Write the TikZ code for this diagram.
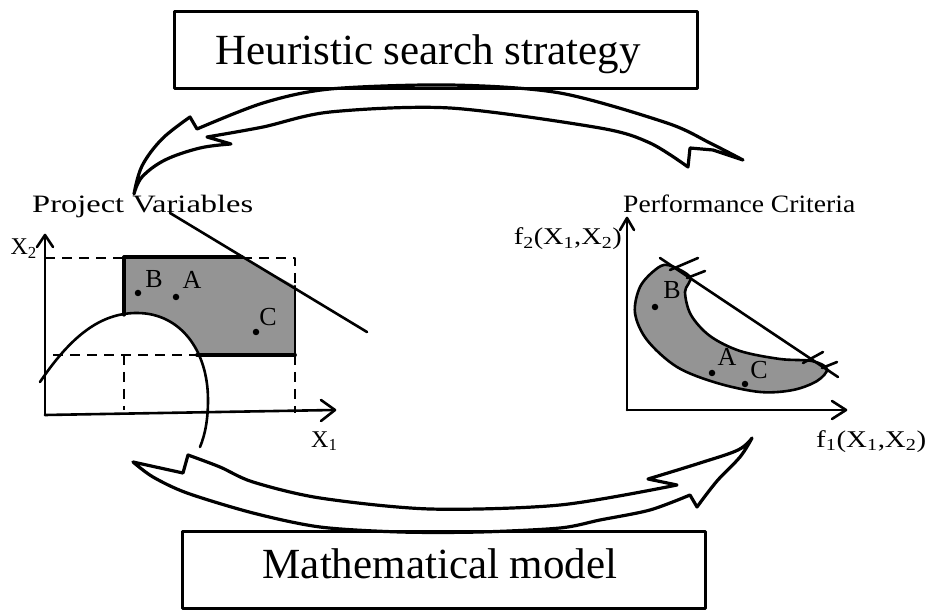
\documentclass[tikz,border=0pt]{standalone}
\usepackage{fontspec}
\setmainfont{Liberation Serif}
\usepackage{graphicx}
\begin{document}
\begin{tikzpicture}[x=1pt,y=-1pt,line join=round,line cap=round]
\tikzset{
  ln/.style={line width=2.6pt},
  dsh/.style={line width=2.4pt,dash pattern=on 10pt off 7pt,line cap=butt},
  bigbox/.style={draw,line width=3.2pt,minimum width=523pt,minimum height=77pt,inner sep=0pt},
  bigtext/.style={font=\fontsize{43}{50}\selectfont,inner sep=0pt},
  lbl/.style={font=\fontsize{24}{28}\selectfont,inner sep=0pt},
  ptl/.style={font=\fontsize{25}{29}\selectfont,inner sep=0pt},
  abc/.style={font=\fontsize{26}{30}\selectfont,inner sep=0pt},
  dot/.style={circle,fill=black,minimum size=6.5pt,inner sep=0pt},
  band/.style={line width=3.2pt},
  region/.style={fill=black!42}
}
\useasboundingbox (0,0) rectangle (935,612);

% ---------- boxes ----------
\node[bigbox] (heur) at (436,50) {};
\node[bigtext,anchor=base] (heurtext) at (428,65) {Heuristic search strategy};
\node[bigbox] (math) at (444,570) {};
\node[bigtext,anchor=base] (mathtext) at (440,578) {Mathematical model};

% ---------- titles ----------
\node[ptl,anchor=base west] (pv) at (32,213) {\resizebox{221pt}{\height}{Project Variables}};
\node[ptl,anchor=base west] (pc) at (623,213) {\resizebox{232pt}{\height}{Performance Criteria}};

% ---------- left plot ----------
\fill[region] (124,257) -- (242,257) -- (295,286) -- (295,355) -- (124,355) -- cycle;
\fill[white] (40,382) .. controls (75,330) and (105,313) .. (137,313)
   .. controls (180,313) and (208,350) .. (208,400) -- (208,420) -- (40,420) -- cycle;
\draw[dsh] (45,258) -- (124,258);
\draw[dsh] (242,258) -- (295,258) -- (295,286);
\draw[dsh] (295,355) -- (295,413);
\draw[dsh] (124,355) -- (124,410);
\draw[dsh] (53,355) -- (197,355);
\draw[line width=3.2pt] (124,315) -- (124,257) -- (242,257);
\draw[ln] (295,286) -- (295,355);
\draw[line width=3.8pt] (197,355) -- (295,355);
\draw[ln] (170,213) -- (367,332);
\draw[ln] (40,382) .. controls (75,330) and (105,313) .. (137,313)
   .. controls (180,313) and (208,350) .. (208,400)
   .. controls (208,420) and (205,435) .. (200,447);
\draw[ln] (45,415) -- (45,236);
\draw[ln] (37,247) -- (45,235) -- (53,247);
\draw[ln] (45,415) -- (334,410);
\draw[ln] (321,400) -- (335,410) -- (321,421);
\node[lbl,anchor=base east] (x2) at (37,255) {X\textsubscript{2}};
\node[lbl,anchor=base west] (x1) at (311,447) {X\textsubscript{1}};
\node[dot] (lB) at (138,293) {};
\node[dot] (lA) at (176,297) {};
\node[dot] (lC) at (256,332) {};
\node[abc] (lBt) at (154,279) {B};
\node[abc] (lAt) at (192,280) {A};
\node[abc] (lCt) at (268,317) {C};

% ---------- right plot ----------
\draw[ln,region] plot[smooth cycle,tension=0.55] coordinates {
  (690,277) (685,292) (691,315) (710,336) (740,351) (780,359) (812,361) (827,369)
  (817,381) (793,390) (760,392) (717,383) (677,367) (647,340) (635,313) (640,287) (655,270) (668,265)};
\draw[ln] (660,258) -- (838,377);
\draw[ln] (670,270) -- (698,258);
\draw[ln] (687,278) -- (705,271);
\draw[ln] (803,363) -- (823,352);
\draw[ln] (822,368) -- (837,362);
\draw[ln] (627,410) -- (627,219);
\draw[ln] (620,230) -- (627,218) -- (634,230);
\draw[ln] (627,410) -- (845,410);
\draw[ln] (832,401) -- (846,410) -- (832,419);
\node[lbl,anchor=base east] (f2) at (622,245) {\resizebox{108pt}{\height}{f\textsubscript{2}(X\textsubscript{1},X\textsubscript{2})}};
\node[lbl,anchor=base west] (f1) at (816,447) {\resizebox{110pt}{\height}{f\textsubscript{1}(X\textsubscript{1},X\textsubscript{2})}};
\node[dot] (rB) at (655,307) {};
\node[dot] (rA) at (712,373) {};
\node[dot] (rC) at (745,384) {};
\node[abc] (rBt) at (672,290) {B};
\node[abc] (rAt) at (727,357) {A};
\node[abc] (rCt) at (759,370) {C};

% ---------- top band arrow ----------
\draw[band] plot[smooth,tension=0.6] coordinates {(134,194) (142,166) (162,139) (190,117)}
  -- (197,129)
  -- plot[smooth] coordinates {(197,129) (263,103) (330,89) (450,85) (560,93) (667,123) (710,143) (743,160)}
  -- (713,150) -- (690,148) -- (688,167)
  -- plot[smooth] coordinates {(688,167) (650,143) (600,128) (450,108) (330,112) (263,127) (207,137)}
  -- (231,144)
  -- plot[smooth,tension=0.6] coordinates {(231,144) (200,148) (165,160) (142,177) (134,194)};

% ---------- bottom band arrow ----------
\draw[band] (133,462) -- (183,473) -- (188,455)
  -- plot[smooth] coordinates {(188,455) (220,467) (253,482) (320,498) (430,509) (560,505) (677,485)}
  -- (648,479)
  -- plot[smooth,tension=0.6] coordinates {(648,479) (700,463) (738,450) (752,438)}
  -- plot[smooth,tension=0.6] coordinates {(752,438) (740,457) (717,481) (697,507)}
  -- (690,495)
  -- plot[smooth] coordinates {(690,495) (650,510) (600,520) (560,528) (480,532) (400,532) (320,527) (253,513) (187,493) (153,477) (133,462)};
\end{tikzpicture}
\end{document}
